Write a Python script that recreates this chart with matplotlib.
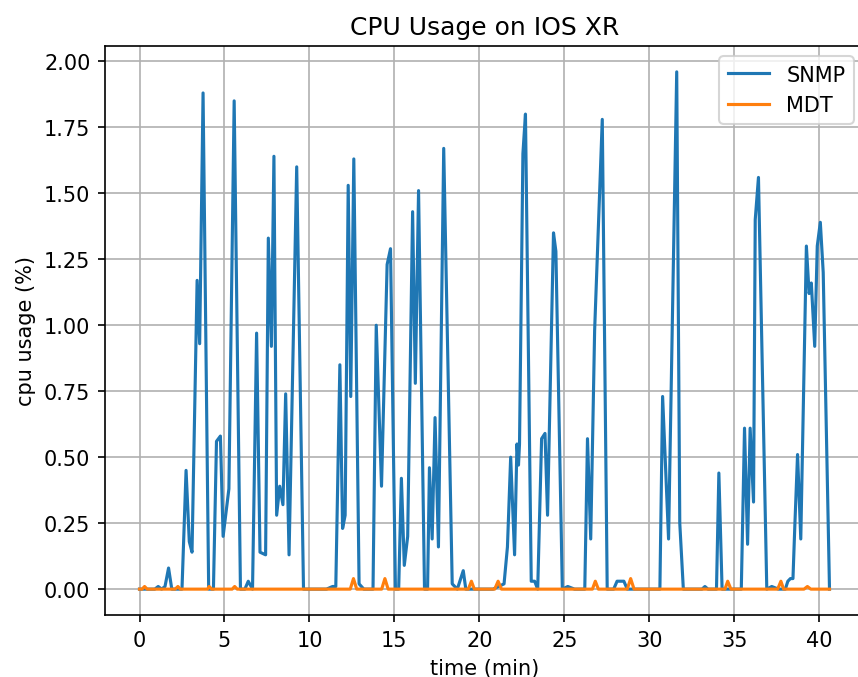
import matplotlib
matplotlib.use('Agg')
import matplotlib.pyplot as plt

# SNMP samples (time in min, cpu %)
snmp_t = [0.0, 0.5, 0.9, 1.1, 1.3, 1.5, 1.71, 1.9, 2.1, 2.3, 2.5, 2.74, 2.93, 3.09,
          3.39, 3.54, 3.74, 4.07, 4.35, 4.53, 4.76, 4.92, 5.26, 5.57, 5.94, 6.2,
          6.4, 6.65, 6.89, 7.09, 7.42, 7.58, 7.76, 7.91, 8.07, 8.25, 8.44, 8.6,
          8.8, 9.25, 9.65, 10.0, 10.5, 11.0, 11.36, 11.55, 11.79, 11.95, 12.1, 12.28,
          12.43, 12.61, 12.92, 13.2, 13.74, 13.93, 14.24, 14.57, 14.77, 15.06, 15.25,
          15.41, 15.58, 15.78, 16.07, 16.23, 16.42, 16.77, 16.95, 17.06, 17.22, 17.39,
          17.59, 17.9, 18.4, 18.7, 19.05, 19.2, 19.6, 20.2, 20.8, 21.45, 21.65, 21.84,
          22.07, 22.21, 22.3, 22.36, 22.56, 22.71, 23.05, 23.25, 23.43, 23.66, 23.86,
          24.01, 24.36, 24.5, 24.88, 25.2, 25.6, 26.2, 26.36, 26.55, 26.78, 27.23,
          27.52, 27.9, 28.1, 28.3, 28.5, 28.7, 29.3, 30.0, 30.62, 30.78, 31.13, 31.61,
          31.79, 32.0, 32.6, 33.1, 33.27, 33.45, 33.95, 34.09, 34.28, 34.8, 35.41,
          35.6, 35.78, 35.93, 36.13, 36.23, 36.42, 36.91, 37.2, 37.6, 38.0, 38.15,
          38.3, 38.45, 38.56, 38.72, 38.91, 39.24, 39.4, 39.53, 39.73, 39.88, 40.06,
          40.23, 40.6]
snmp_v = [0.0, 0.0, 0.0, 0.01, 0.0, 0.01, 0.08, 0.0, 0.0, 0.0, 0.0, 0.45, 0.18, 0.14,
          1.17, 0.93, 1.88, 0.0, 0.0, 0.56, 0.58, 0.2, 0.38, 1.85, 0.0, 0.0,
          0.03, 0.0, 0.97, 0.14, 0.13, 1.33, 0.92, 1.64, 0.28, 0.39, 0.32, 0.74,
          0.13, 1.6, 0.0, 0.0, 0.0, 0.0, 0.01, 0.01, 0.85, 0.23, 0.28, 1.53,
          0.73, 1.63, 0.02, 0.0, 0.0, 1.0, 0.39, 1.23, 1.29, 0.0, 0.0,
          0.42, 0.09, 0.2, 1.43, 0.78, 1.51, 0.0, 0.0, 0.46, 0.19, 0.65,
          0.16, 1.67, 0.02, 0.0, 0.07, 0.0, 0.0, 0.0, 0.0, 0.02, 0.16, 0.5,
          0.13, 0.55, 0.47, 0.55, 1.65, 1.8, 0.03, 0.03, 0.0, 0.57, 0.59,
          0.28, 1.35, 1.28, 0.0, 0.01, 0.0, 0.0, 0.57, 0.19, 0.98, 1.78,
          0.0, 0.0, 0.03, 0.03, 0.03, 0.0, 0.0, 0.0, 0.0, 0.73, 0.19, 1.96,
          0.25, 0.0, 0.0, 0.0, 0.01, 0.0, 0.0, 0.44, 0.0, 0.0, 0.0,
          0.61, 0.17, 0.61, 0.33, 1.4, 1.56, 0.0, 0.01, 0.0, 0.0, 0.03,
          0.04, 0.04, 0.24, 0.51, 0.19, 1.3, 1.12, 1.16, 0.92, 1.3, 1.39,
          1.2, 0.0]

# MDT samples
mdt_t = [0.0, 0.15, 0.3, 0.45, 2.1, 2.26, 2.4, 4.0, 4.1, 4.25, 5.45, 5.6, 5.75,
         12.4, 12.59, 12.78, 14.25, 14.44, 14.63, 19.35, 19.53, 19.7, 20.9, 21.1,
         21.3, 26.65, 26.82, 27.0, 28.7, 28.9, 29.1, 34.45, 34.61, 34.8, 37.55,
         37.74, 37.9, 39.1, 39.3, 39.5, 40.6]
mdt_v = [0.0, 0.0, 0.01, 0.0, 0.0, 0.01, 0.0, 0.0, 0.01, 0.0, 0.0, 0.01, 0.0,
         0.0, 0.04, 0.0, 0.0, 0.04, 0.0, 0.0, 0.03, 0.0, 0.0, 0.03,
         0.0, 0.0, 0.03, 0.0, 0.0, 0.04, 0.0, 0.0, 0.03, 0.0, 0.0,
         0.03, 0.0, 0.0, 0.01, 0.0, 0.0]

fig = plt.figure(figsize=(858 / 150, 678 / 150), dpi=150)
ax = fig.add_axes([105 / 858, 1 - 616 / 678, 759 / 858, 569 / 678])
ax.plot(snmp_t, snmp_v, label='SNMP')
ax.plot(mdt_t, mdt_v, label='MDT')
ax.set_title('CPU Usage on IOS XR')
ax.set_xlabel('time (min)')
ax.set_ylabel('cpu usage (%)')
ax.grid(True)
ax.legend(loc='upper right')
fig.savefig('out.png', dpi=150)
